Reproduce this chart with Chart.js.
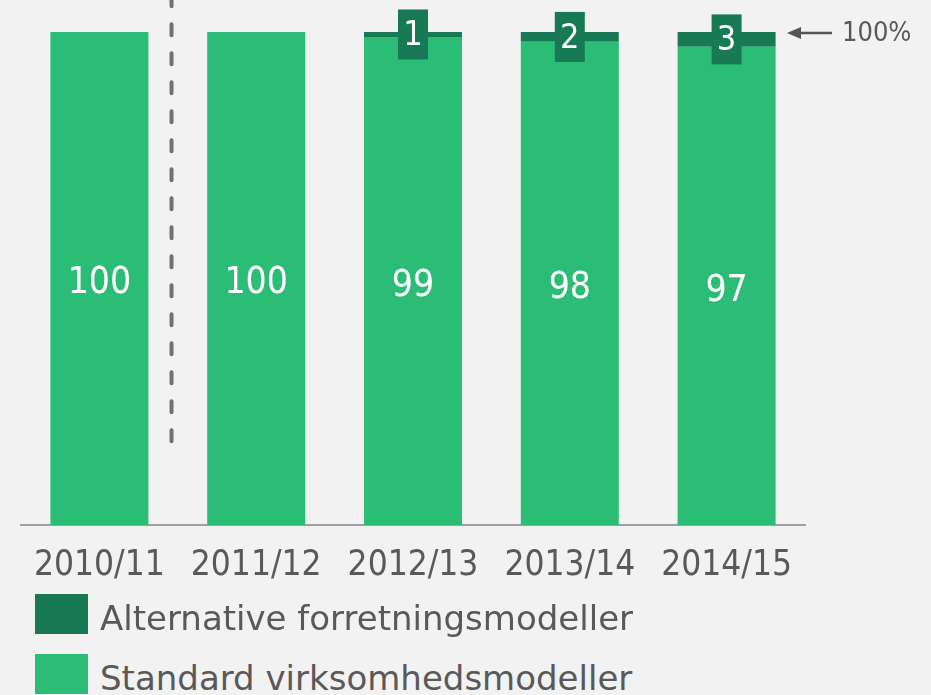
<!DOCTYPE html>
<html>
<head>
<meta charset="utf-8">
<script src="https://cdn.jsdelivr.net/npm/chart.js@4.4.1/dist/chart.umd.min.js"></script>
<style>
    html, body { margin: 0; padding: 0; background: #f2f2f2; overflow: hidden; }
    #wrap { position: absolute; left: 0; top: 0; width: 931px; height: 600px; }
    .legend { position: absolute; left: 35px; font-family: "DejaVu Sans", sans-serif;
              font-size: 34px; color: #595959; white-space: nowrap; }
    .legend span.box { position: absolute; left: 0; top: 0; width: 53px; height: 40px; }
    .legend span.txt { position: absolute; left: 65px; line-height: 40px; top: 4px; }
</style>
</head>
<body>
<div id="wrap"><canvas id="chart" width="931" height="600"></canvas></div>
<div class="legend" style="top:594px"><span class="box" style="background:#187a55"></span><span class="txt">Alternative forretningsmodeller</span></div>
<div class="legend" style="top:654px"><span class="box" style="background:#2bbd75"></span><span class="txt">Standard virksomhedsmodeller</span></div>
<script>
const years = ["2010/11", "2011/12", "2012/13", "2013/14", "2014/15"];
const standardModels = [100, 100, 99, 98, 97];
const alternativeModels = [0, 0, 1, 2, 3];

const lightGreen = "#2bbd75";
const darkGreen = "#187a55";
const grey = "#595959";
const numFont = '"DejaVu Sans Condensed", "DejaVu Sans", sans-serif';

// values in the bars, dark boxes for the small series
const barLabels = {
    id: "barLabels",
    afterDatasetsDraw(chart) {
        const ctx = chart.ctx;
        ctx.save();
        ctx.textAlign = "center";
        ctx.textBaseline = "middle";

        chart.getDatasetMeta(0).data.forEach((bar, i) => {
            ctx.fillStyle = "#ffffff";
            ctx.font = "37px " + numFont;
            ctx.fillText(standardModels[i], bar.x, (bar.y + bar.base) / 2 + 5);
        });

        chart.getDatasetMeta(1).data.forEach((bar, i) => {
            if (!alternativeModels[i]) return;
            const cy = (bar.y + bar.base) / 2;
            ctx.fillStyle = darkGreen;
            ctx.fillRect(bar.x - 15, cy - 25, 30, 50);
            ctx.fillStyle = "#ffffff";
            ctx.font = "34px " + numFont;
            ctx.fillText(alternativeModels[i], bar.x, cy + 2);
        });
        ctx.restore();
    }
};

// dashed divider and the 100% marker
const extras = {
    id: "extras",
    afterDraw(chart) {
        const ctx = chart.ctx;
        const x = chart.scales.x;
        const y = chart.scales.y;
        ctx.save();

        const dx = x.getPixelForValue(0.46);
        const bottom = y.getPixelForValue(17);
        ctx.strokeStyle = "#707075";
        ctx.lineWidth = 4;
        ctx.lineCap = "round";
        ctx.setLineDash([11, 18]);
        ctx.beginPath();
        ctx.moveTo(dx, bottom - 29 * 15 - 11);
        ctx.lineTo(dx, bottom);
        ctx.stroke();
        ctx.setLineDash([]);

        const ay = y.getPixelForValue(100) + 1;
        const tip = x.right - 18;
        ctx.strokeStyle = "#555555";
        ctx.fillStyle = "#555555";
        ctx.lineWidth = 2.5;
        ctx.lineCap = "butt";
        ctx.beginPath();
        ctx.moveTo(tip + 10, ay);
        ctx.lineTo(tip + 45, ay);
        ctx.stroke();
        ctx.beginPath();
        ctx.moveTo(tip, ay);
        ctx.lineTo(tip + 14, ay - 6);
        ctx.lineTo(tip + 14, ay + 6);
        ctx.closePath();
        ctx.fill();

        ctx.fillStyle = grey;
        ctx.font = "27px " + numFont;
        ctx.textAlign = "left";
        ctx.textBaseline = "middle";
        ctx.fillText("100%", tip + 55, ay + 1);
        ctx.restore();
    }
};

new Chart(document.getElementById("chart"), {
    type: "bar",
    data: {
        labels: years,
        datasets: [{
            label: "Standard virksomhedsmodeller",
            data: standardModels,
            backgroundColor: lightGreen
        }, {
            label: "Alternative forretningsmodeller",
            data: alternativeModels,
            backgroundColor: darkGreen
        }]
    },
    options: {
        responsive: false,
        animation: false,
        barPercentage: 0.625,
        categoryPercentage: 1,
        layout: { padding: { left: 21, right: 126, top: 32, bottom: 10 } },
        plugins: {
            legend: { display: false },
            tooltip: { enabled: false }
        },
        scales: {
            x: {
                stacked: true,
                grid: { display: false, drawTicks: false },
                border: { color: "#a0a0a0", width: 2 },
                ticks: {
                    color: grey,
                    padding: 20,
                    maxRotation: 0,
                    minRotation: 0,
                    autoSkip: false,
                    font: { family: numFont, size: 35 }
                },
                afterFit(scale) { scale.height = 65; }
            },
            y: {
                stacked: true,
                display: false,
                min: 0,
                max: 100
            }
        }
    },
    plugins: [barLabels, extras]
});
</script>
</body>
</html>
